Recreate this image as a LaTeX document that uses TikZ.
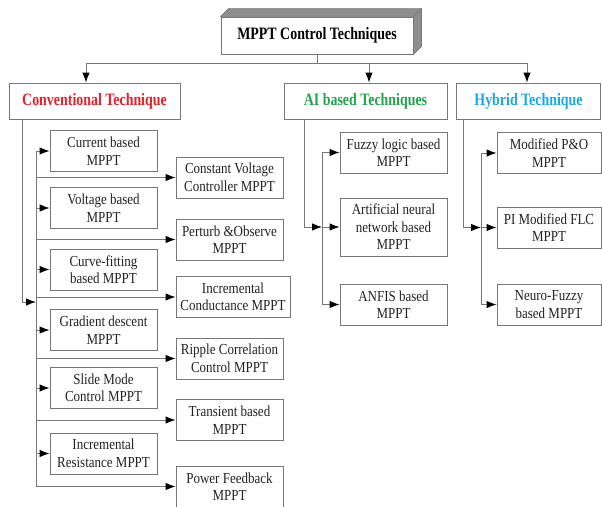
\documentclass[tikz,border=0pt]{standalone}
\usepackage{fontspec}
\setmainfont[FakeStretch=0.85]{Liberation Serif}
\newfontfamily\headfont[FakeStretch=0.8]{Liberation Serif}
\usetikzlibrary{arrows.meta}
\definecolor{lnc}{HTML}{777777}
\definecolor{txc}{HTML}{222222}
\definecolor{redh}{HTML}{E8212B}
\definecolor{greenh}{HTML}{22A64B}
\definecolor{blueh}{HTML}{1BA8E2}
\definecolor{sidec}{HTML}{8E8E8E}
\tikzset{
  box/.style={draw=lnc, line width=0.9pt, fill=white, inner sep=0pt, align=center,
    text=txc, font=\fontsize{15.3}{17.5}\selectfont},
  lbox/.style={box, minimum width=107pt, minimum height=41pt},
  hbox/.style={box, minimum height=36pt, font=\headfont\bfseries\fontsize{17.4}{20}\selectfont},
  line/.style={draw=lnc, line width=0.9pt},
  arr/.style={line, -{Latex[black,length=10pt,width=7.5pt]}}
}
\begin{document}
\begin{tikzpicture}[x=1pt,y=-1pt]
\useasboundingbox (0,0) rectangle (602,506);
% top 3D box
\node[hbox, minimum width=192pt, minimum height=37pt, text=black] (top) at (317,35.5) {MPPT Control Techniques};
\fill[sidec, draw=lnc, line width=0.6pt] (top.north west) -- ++(8,-8) -- ([shift={(8,-8)}]top.north east) -- (top.north east) -- cycle;
\fill[sidec, draw=lnc, line width=0.6pt] (top.north east) -- ++(8,-8) -- ([shift={(8,-8)}]top.south east) -- (top.south east) -- cycle;
% category boxes
\node[hbox, minimum width=171pt, text=redh] (conv) at (94.5,101) {Conventional Technique};
\node[hbox, minimum width=163pt, text=greenh] (ai) at (365.5,101) {AI based Techniques};
\node[hbox, minimum width=144pt, text=blueh] (hyb) at (528.5,101) {Hybrid Technique};
% top connectors
\coordinate (hl) at (86,63);
\coordinate (ha) at (369,63);
\coordinate (hr) at (527,63);
\coordinate (hm) at (317,63);
\draw[line] (top.south) -- (hm);
\draw[line] (hl) -- (hr);
\draw[arr] (hl) -- (hl |- conv.north);
\draw[arr] (ha) -- (ha |- ai.north);
\draw[arr] (hr) -- (hr |- hyb.north);
% conventional left column
\node[lbox] (cur) at (103.5,151) {Current based\\MPPT};
\node[lbox] (vol) at (103.5,208) {Voltage based\\MPPT};
\node[lbox] (crv) at (103.5,269.5) {Curve-fitting\\based MPPT};
\node[lbox] (grd) at (103.5,330) {Gradient descent\\MPPT};
\node[lbox] (sld) at (103.5,388) {Slide Mode\\Control MPPT};
\node[lbox] (irs) at (103.5,453.5) {Incremental\\Resistance MPPT};
% conventional right column
\node[lbox] (cvc) at (229.5,177.5) {Constant Voltage\\Controller MPPT};
\node[lbox] (po) at (229.5,239.5) {Perturb \&Observe\\MPPT};
\node[lbox, minimum width=114pt] (icd) at (233,297) {Incremental\\Conductance MPPT};
\node[lbox] (rcc) at (229.5,358.5) {Ripple Correlation\\Control MPPT};
\node[lbox] (trn) at (229.5,420) {Transient based\\MPPT};
\node[lbox] (pfb) at (229.5,486.5) {Power Feedback\\MPPT};
% conventional connectors
\coordinate (cv) at (22,302);
\coordinate (cb) at (36,302);
\coordinate (cbt) at (36,151);
\coordinate (cbb) at (36,486.5);
\draw[arr] (cv |- conv.south) -- (cv) -- (cb);
\draw[line] (cbt) -- (cbb);
\foreach \n in {cur,vol,crv,grd,sld,irs,cvc,po,icd,rcc,trn,pfb}
  \draw[arr] (cbt |- \n.west) -- (\n.west);
% AI column
\node[lbox] (fz) at (393.5,152.5) {Fuzzy logic based\\MPPT};
\node[lbox, minimum height=58pt] (ann) at (393.5,227) {Artificial neural\\network based\\MPPT};
\node[lbox] (anf) at (393.5,304.5) {ANFIS based\\MPPT};
\coordinate (av) at (304,227);
\coordinate (ab) at (322,227);
\coordinate (abt) at (322,152.5);
\coordinate (abb) at (322,304.5);
\draw[arr] (av |- ai.south) -- (av) -- (ab);
\draw[line] (abt) -- (abb);
\foreach \n in {fz,ann,anf}
  \draw[arr] (abt |- \n.west) -- (\n.west);
% Hybrid column
\node[lbox, minimum width=104pt] (mpo) at (549,153) {Modified P\&O\\MPPT};
\node[lbox, minimum width=104pt] (pif) at (549,227.5) {PI Modified FLC\\MPPT};
\node[lbox, minimum width=104pt] (nfz) at (549,304.5) {Neuro-Fuzzy\\based MPPT};
\coordinate (yv) at (463,227.5);
\coordinate (yb) at (481,227.5);
\coordinate (ybt) at (481,153);
\coordinate (ybb) at (481,304.5);
\draw[arr] (yv |- hyb.south) -- (yv) -- (yb);
\draw[line] (ybt) -- (ybb);
\foreach \n in {mpo,pif,nfz}
  \draw[arr] (ybt |- \n.west) -- (\n.west);
\end{tikzpicture}
\end{document}
